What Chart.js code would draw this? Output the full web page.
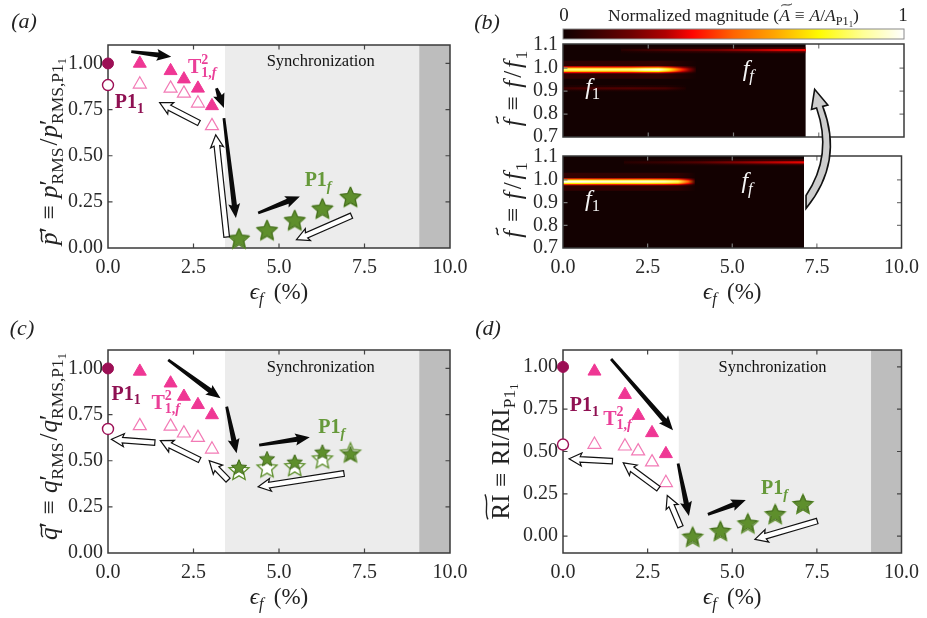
<!DOCTYPE html>
<html>
<head>
<meta charset="utf-8">
<title>Forced thermoacoustic states</title>
<script src="https://cdn.jsdelivr.net/npm/chart.js@4.4.1/dist/chart.umd.min.js"></script>
<style>
  html, body { margin: 0; padding: 0; background: #fff; }
  #fig { position: relative; width: 927px; height: 618px; overflow: hidden; }
  #fig canvas { position: absolute; left: 0; top: 0; }
</style>
</head>
<body>
<div id="fig">
  <canvas id="panelA" width="927" height="618"></canvas>
  <canvas id="panelBTop" width="927" height="618"></canvas>
  <canvas id="panelBBot" width="927" height="618"></canvas>
  <canvas id="panelC" width="927" height="618"></canvas>
  <canvas id="panelD" width="927" height="618"></canvas>
</div>
<script>
// ---------------- data ----------------
// forcing amplitude (%) of each measured state
const epsP11 = [0.0];
const epsT = [0.93, 1.83, 2.22, 2.63, 3.04];
const epsP1f = [3.83, 4.65, 5.46, 6.27, 7.09];

// (a) pressure amplitude ("Up": forcing increased, "Down": forcing decreased)
const pP11Up = [1.00];
const pP11Down = [0.883];
const pTUp = [1.00, 0.96, 0.915, 0.865, 0.77];
const pTDown = [0.887, 0.865, 0.838, 0.784, 0.662];
const pP1fUp = [0.054, 0.099, 0.153, 0.216, 0.279];
const pP1fDown = [0.050, 0.096, 0.150, 0.213, 0.276];

// (c) heat-release amplitude
const qP11Up = [1.00];
const qP11Down = [0.672];
const qTUp = [0.984, 0.92, 0.848, 0.803, 0.748];
const qTDown = [0.689, 0.686, 0.649, 0.625, 0.562];
const qP1fUp = [0.467, 0.513, 0.495, 0.549, 0.540];
const qP1fDown = [0.450, 0.464, 0.471, 0.513, 0.545];

// (d) Rayleigh index
const riP11Up = [1.00];
const riP11Down = [0.541];
const riTUp = [0.974, 0.836, 0.712, 0.610, 0.486];
const riTDown = [0.541, 0.531, 0.502, 0.437, 0.315];
const riP1fUp = [0.000, 0.034, 0.079, 0.134, 0.193];
const riP1fDown = [-0.004, 0.030, 0.075, 0.130, 0.190];

// tick values
const epsTicks = [0, 2.5, 5, 7.5, 10];
const ampTicks = [0, 0.25, 0.5, 0.75, 1.0];
const freqTicks = [0.7, 0.8, 0.9, 1.0, 1.1];

// regime boundaries (%)
const syncStart = 3.42;
const syncEnd = 9.1;

// (b) spectral ridges: forcing amplitude (%), normalised magnitude, normalised frequency
const mapEpsEnd = 7.12;
const upF1Eps = [0, 0.5, 1.0, 1.5, 2.0, 2.4, 2.8, 3.1, 3.3, 3.5, 3.7, 3.9];
const upF1Mag = [0.84, 0.85, 0.85, 0.85, 0.86, 0.93, 0.96, 0.78, 0.60, 0.42, 0.25, 0.06];
const upF1Freq = 0.993;
const upSideEps = [0, 1.0, 2.0, 3.0, 3.6];
const upSideMag = [0.10, 0.13, 0.14, 0.12, 0.03];
const upSideFreq = 0.912;
const upFfEps = [1.7, 2.5, 3.5, 4.5, 5.5, 6.3, 7.12];
const upFfMag = [0.05, 0.10, 0.15, 0.20, 0.28, 0.34, 0.36];
const upFfFreq = 1.078;
const downF1Eps = [0, 0.5, 1.0, 1.5, 2.0, 2.5, 3.0, 3.4, 3.7, 3.9];
const downF1Mag = [0.97, 0.97, 0.94, 0.93, 0.93, 0.93, 0.90, 0.82, 0.50, 0.10];
const downF1Freq = 0.992;
const downFfEps = [1.8, 3.0, 4.0, 5.0, 6.0, 7.12];
const downFfMag = [0.05, 0.09, 0.14, 0.22, 0.30, 0.36];
const downFfFreq = 1.077;

// ---------------- styling ----------------
const SERIF = '"Liberation Serif", "DejaVu Serif", "Times New Roman", serif';
const C = {
  p11: '#9c0f55', t: '#ef3794', tOpen: '#f27ab5', star: '#5e8f2c', starEdge: '#41691b',
  lblP11: '#8f1052', lblT: '#ea3f98', lblP1f: '#66993a',
  sync: '#ececec', beyond: '#bdbdbd', frame: '#3a3a3a', text: '#222', tick: '#2a2a2a'
};
const HEAT_BG = '#130101';
const magStops = [0, 0.1, 0.2, 0.3, 0.38, 0.5, 0.62, 0.75, 0.88, 1];
const magColors = [[16,0,0],[60,0,0],[110,0,0],[175,0,0],[255,5,0],[255,100,0],[255,165,0],[255,250,0],[255,255,150],[255,255,255]];
const F1_LAYERS = [[18, 0.3, 0.2], [7, 0.45, 0.9], [4.5, 0.75, 1], [2.2, 1.0, 1]];
const FF_LAYERS = [[6, 0.55, 0.5], [2.2, 1.0, 1]];

Chart.defaults.font.family = SERIF;

function heatColor(m, alpha) {
  m = Math.max(0, Math.min(1, m));
  let i = 1;
  while (i < magStops.length - 1 && m > magStops[i]) i++;
  const t = (m - magStops[i - 1]) / (magStops[i] - magStops[i - 1]);
  const c0 = magColors[i - 1], c1 = magColors[i];
  const c = c0.map((v, k) => Math.round(v + (c1[k] - v) * t));
  return `rgba(${c[0]},${c[1]},${c[2]},${alpha == null ? 1 : alpha})`;
}

// ---------------- rich text (sub/superscripts, tildes) ----------------
function fontStr(size, it, b) { return `${it ? 'italic ' : ''}${b ? 'bold ' : ''}${size}px ${SERIF}`; }
function layoutRuns(ctx, runs, S) {
  let x = 0; const items = [];
  for (const r of runs) {
    const lv = r.lv || 0;
    const k = lv === 1 ? 0.7 : lv === 2 ? 0.5 : lv === -1 ? 0.7 : 1;
    const dy = lv === 1 ? 0.22 * S : lv === 2 ? 0.36 * S : lv === -1 ? -0.42 * S : 0;
    const sz = S * k;
    ctx.font = fontStr(sz, r.it, r.b);
    const w = ctx.measureText(r.t).width;
    x += (r.pre || 0) * S;
    items.push({ r, x, dy, sz, w });
    if (!r.na) x += w;
    x += (r.sp || 0) * S;
  }
  return { items, width: x };
}
function drawTilde(ctx, x, y, w, sz) {
  const a = sz * 0.06;
  ctx.beginPath();
  ctx.lineWidth = Math.max(1, sz * 0.055);
  ctx.moveTo(x, y + a);
  ctx.bezierCurveTo(x + w * 0.3, y - a * 1.8, x + w * 0.6, y + a * 1.8, x + w, y - a);
  ctx.stroke();
}
function drawRich(ctx, runs, S, px, py, opt) {
  opt = opt || {};
  ctx.save();
  ctx.translate(px, py);
  if (opt.rot) ctx.rotate(opt.rot);
  const L = layoutRuns(ctx, runs, S);
  const x0 = opt.align === 'left' ? 0 : opt.align === 'right' ? -L.width : -L.width / 2;
  ctx.textBaseline = 'alphabetic';
  ctx.textAlign = 'left';
  for (const it of L.items) {
    const col = it.r.color || opt.color || C.text;
    ctx.fillStyle = col; ctx.strokeStyle = col;
    ctx.font = fontStr(it.sz, it.r.it, it.r.b);
    ctx.fillText(it.r.t, x0 + it.x, it.dy);
    if (it.r.tilde) drawTilde(ctx, x0 + it.x + (it.r.it ? 0.12 * it.sz : 0), it.dy - it.r.tilde * it.sz, it.w, it.sz);
  }
  ctx.restore();
}

// ---------------- markers ----------------
function makeStar(R, fill, stroke, lw) {
  const cv = document.createElement('canvas');
  const n = Math.ceil(2 * R + 2 * lw + 2);
  cv.width = n; cv.height = n;
  const g = cv.getContext('2d');
  const c = n / 2, r = R * 0.46;
  g.beginPath();
  for (let i = 0; i < 10; i++) {
    const a = -Math.PI / 2 + i * Math.PI / 5;
    const rr = i % 2 ? r : R;
    const x = c + rr * Math.cos(a), y = c + 1 + rr * Math.sin(a);
    i ? g.lineTo(x, y) : g.moveTo(x, y);
  }
  g.closePath();
  g.fillStyle = fill; g.fill();
  g.lineJoin = 'miter'; g.lineWidth = lw; g.strokeStyle = stroke; g.stroke();
  return cv;
}
const starOpen = makeStar(10.5, '#ffffff', C.star, 1.3);
const starFullA = makeStar(10.5, C.star, C.starEdge, 1);
const starFullC = makeStar(8, C.star, C.starEdge, 1);
const starFullD = makeStar(9.5, C.star, C.starEdge, 1);

function pts(xs, ys) { return xs.map((x, i) => ({ x, y: ys[i] })); }

function markerSets(p11Up, p11Down, tUp, tDown, fUp, fDown, fullStar) {
  return [
    { data: pts(epsP11, p11Up), pointStyle: 'circle', pointRadius: 5.5, backgroundColor: C.p11, borderColor: C.p11, borderWidth: 1, order: 1 },
    { data: pts(epsP11, p11Down), pointStyle: 'circle', pointRadius: 5.5, backgroundColor: '#fff', borderColor: C.p11, borderWidth: 1.4, order: 2 },
    { data: pts(epsT, tUp), pointStyle: 'triangle', pointRadius: 7.5, backgroundColor: C.t, borderColor: C.t, borderWidth: 1, order: 1 },
    { data: pts(epsT, tDown), pointStyle: 'triangle', pointRadius: 7.5, backgroundColor: '#fff', borderColor: C.tOpen, borderWidth: 1.2, order: 2 },
    { data: pts(epsP1f, fDown), pointStyle: starOpen, pointRadius: 10, order: 2 },
    { data: pts(epsP1f, fUp), pointStyle: fullStar, pointRadius: 10, order: 1 }
  ].map(d => Object.assign({ clip: false, showLine: false, pointHoverRadius: d.pointRadius }, d));
}

// ---------------- annotations ----------------
function drawArrow(ctx, x0, y0, x1, y1, hollow) {
  const dx = x1 - x0, dy = y1 - y0, L = Math.hypot(dx, dy);
  const ux = dx / L, uy = dy / L, nx = -uy, ny = ux;
  const hl = hollow ? 11 : 13, hw = hollow ? 6.5 : 6;
  const s0 = hollow ? 2.8 : 1.4, s1 = hollow ? 2.8 : 2.6;
  const bx = x1 - ux * hl, by = y1 - uy * hl;
  const P = [
    [x0 + nx * s0, y0 + ny * s0], [bx + nx * s1, by + ny * s1], [bx + nx * hw - ux * 1.5, by + ny * hw - uy * 1.5], [x1, y1],
    [bx - nx * hw - ux * 1.5, by - ny * hw - uy * 1.5], [bx - nx * s1, by - ny * s1], [x0 - nx * s0, y0 - ny * s0]
  ];
  ctx.beginPath();
  P.forEach(([px, py], i) => (i ? ctx.lineTo(px, py) : ctx.moveTo(px, py)));
  ctx.closePath();
  if (hollow) {
    ctx.fillStyle = '#fff'; ctx.fill();
    ctx.lineWidth = 1.2; ctx.lineJoin = 'miter'; ctx.strokeStyle = '#111'; ctx.stroke();
  } else {
    ctx.fillStyle = '#0a0a0a'; ctx.fill();
  }
}

function drawFrame(chart, xt, yt, tickColor) {
  const { ctx, chartArea: a, scales: { x, y } } = chart;
  const TL = 4.5;
  ctx.save();
  ctx.strokeStyle = tickColor; ctx.lineWidth = 1.2;
  ctx.beginPath();
  for (const v of xt) {
    const p = x.getPixelForValue(v);
    if (p < a.left + 2 || p > a.right - 2) continue;
    ctx.moveTo(p, a.bottom); ctx.lineTo(p, a.bottom - TL);
    ctx.moveTo(p, a.top); ctx.lineTo(p, a.top + TL);
  }
  for (const v of yt) {
    const p = y.getPixelForValue(v);
    if (p < a.top + 2 || p > a.bottom - 2) continue;
    ctx.moveTo(a.left, p); ctx.lineTo(a.left + TL, p);
    ctx.moveTo(a.right, p); ctx.lineTo(a.right - TL, p);
  }
  ctx.stroke();
  ctx.lineWidth = 1.5; ctx.strokeStyle = C.frame;
  ctx.strokeRect(a.left, a.top, a.right - a.left, a.bottom - a.top);
  ctx.restore();
}

const epsTitle = [{ t: 'ϵ', it: 1 }, { t: 'f', it: 1, lv: 1 }, { t: '(%)', pre: 0.45 }];

function makeDecor(cfg) {
  return {
    id: 'decor',
    beforeDatasetsDraw(chart) {
      const { ctx, chartArea: a, scales: { x } } = chart;
      if (cfg.bands) {
        const x0 = x.getPixelForValue(syncStart), x1 = x.getPixelForValue(syncEnd), x2 = x.getPixelForValue(10);
        ctx.fillStyle = C.sync; ctx.fillRect(x0, a.top, x1 - x0, a.bottom - a.top);
        ctx.fillStyle = C.beyond; ctx.fillRect(x1, a.top, x2 - x1, a.bottom - a.top);
      }
      if (!cfg.frameOnTop) drawFrame(chart, epsTicks, cfg.yTicks, '#444');
    },
    afterDatasetsDraw(chart) {
      const { ctx, scales: { x, y } } = chart;
      if (cfg.frameOnTop) drawFrame(chart, epsTicks, cfg.yTicks, '#7a7a7a');
      if (cfg.sync) {
        ctx.save();
        ctx.font = `16.5px ${SERIF}`; ctx.fillStyle = '#111';
        ctx.textAlign = 'center'; ctx.textBaseline = 'middle';
        ctx.fillText('Synchronization', x.getPixelForValue(cfg.sync[0]), y.getPixelForValue(cfg.sync[1]));
        ctx.restore();
      }
      (cfg.arrows || []).forEach(([e0, v0, e1, v1, hollow]) =>
        drawArrow(ctx, x.getPixelForValue(e0), y.getPixelForValue(v0), x.getPixelForValue(e1), y.getPixelForValue(v1), hollow));
      (cfg.labels || []).forEach(l =>
        drawRich(ctx, l.runs, l.size, x.getPixelForValue(l.at[0]), y.getPixelForValue(l.at[1]), { align: 'left', color: l.color }));
    },
    afterDraw(chart) {
      const { ctx, chartArea: a } = chart;
      if (cfg.tag) {
        ctx.save();
        ctx.font = `italic 22px ${SERIF}`; ctx.fillStyle = C.text;
        ctx.textAlign = 'center'; ctx.textBaseline = 'middle';
        ctx.fillText(cfg.tag, a.left + cfg.tagDx, a.top + cfg.tagDy);
        ctx.restore();
      }
      if (cfg.yTitle) drawRich(ctx, cfg.yTitle, cfg.yTitleSize, a.left - cfg.yTitleDx, (a.top + a.bottom) / 2 + cfg.yTitleDy, { rot: -Math.PI / 2 });
      if (cfg.xTitle) drawRich(ctx, epsTitle, 23, (a.left + a.right) / 2, a.bottom + 51);
      if (cfg.extra) cfg.extra(chart);
    }
  };
}

function axes(yMin, yMax, yTicks, digits, showX) {
  const tickFont = { family: SERIF, size: 20 };
  return {
    x: {
      type: 'linear', min: 0, max: 10,
      afterBuildTicks: s => { s.ticks = epsTicks.map(v => ({ value: v })); },
      afterFit: s => { s.height = 40; },
      grid: { display: false, drawTicks: false }, border: { display: false },
      ticks: { display: showX, font: tickFont, color: C.tick, padding: 8, maxRotation: 0, autoSkip: false, callback: v => Number(v).toFixed(1) }
    },
    y: {
      type: 'linear', min: yMin, max: yMax,
      afterBuildTicks: s => { s.ticks = yTicks.map(v => ({ value: v })); },
      afterFit: s => { s.width = 50; },
      grid: { display: false, drawTicks: false }, border: { display: false },
      ticks: { font: tickFont, color: C.tick, padding: 5, autoSkip: false, callback: v => Number(v).toFixed(digits) }
    }
  };
}

function pad(area) {
  return { left: area.l - 50, top: area.t, right: 927 - area.r, bottom: 618 - area.b - 40 };
}

function scatterPanel(id, area, yMin, datasets, cfg) {
  return new Chart(document.getElementById(id), {
    type: 'scatter',
    data: { datasets },
    options: {
      responsive: false, animation: false, devicePixelRatio: 1, events: [],
      layout: { padding: pad(area) },
      plugins: { legend: { display: false }, tooltip: { enabled: false } },
      scales: axes(yMin, 1.1, ampTicks, 2, true)
    },
    plugins: [makeDecor(Object.assign({ yTicks: ampTicks, bands: true, xTitle: true }, cfg))]
  });
}

function ridgeGradient(chart, eps, mag, k, alpha) {
  const xs = chart.scales.x;
  if (!xs || !chart.chartArea) return 'rgba(0,0,0,0)';
  const x0 = xs.getPixelForValue(eps[0]), x1 = xs.getPixelForValue(eps[eps.length - 1]);
  const g = chart.ctx.createLinearGradient(x0, 0, x1, 0);
  eps.forEach((e, i) => g.addColorStop((xs.getPixelForValue(e) - x0) / (x1 - x0), heatColor(mag[i] * k, alpha)));
  return g;
}
function ridge(eps, mag, freq, layers) {
  return layers.map(([w, k, alpha], i) => ({
    data: eps.map(e => ({ x: e, y: freq })),
    borderWidth: w,
    borderColor: c => ridgeGradient(c.chart, eps, mag, k, alpha),
    borderCapStyle: 'butt', pointRadius: 0, fill: false, tension: 0, clip: 0, order: 50 - i
  }));
}

function heatPanel(id, area, ridges, showX, cfg) {
  const bg = {
    data: [{ x: 0, y: 1.105 }, { x: mapEpsEnd, y: 1.105 }],
    fill: 'start', backgroundColor: HEAT_BG, borderWidth: 0, pointRadius: 0, order: 100, clip: 0
  };
  return new Chart(document.getElementById(id), {
    type: 'line',
    data: { datasets: [bg].concat(ridges) },
    options: {
      responsive: false, animation: false, devicePixelRatio: 1, events: [],
      layout: { padding: pad(area) },
      plugins: { legend: { display: false }, tooltip: { enabled: false } },
      scales: axes(0.7, 1.105, freqTicks, 1, showX)
    },
    plugins: [makeDecor(Object.assign({ yTicks: freqTicks, frameOnTop: true, xTitle: showX }, cfg))]
  });
}

// ---------------- titles and labels ----------------
const SUBP = { t: 'P1', lv: 1 }, SUBSUB1 = { t: '1', lv: 2 };
const titleP = [
  { t: 'p', it: 1, tilde: 0.62 }, { t: '′' }, { t: '≡', pre: 0.3, sp: 0.3 },
  { t: 'p', it: 1 }, { t: '′', na: 1 }, { t: 'RMS', lv: 1, pre: 0.04 }, { t: '/', pre: 0.08, sp: 0.04 },
  { t: 'p', it: 1 }, { t: '′', na: 1 }, { t: 'RMS,', lv: 1, pre: 0.04 }, SUBP, SUBSUB1
];
const titleQ = [
  { t: 'q', it: 1, tilde: 0.62 }, { t: '′' }, { t: '≡', pre: 0.3, sp: 0.3 },
  { t: 'q', it: 1 }, { t: '′', na: 1 }, { t: 'RMS', lv: 1, pre: 0.04 }, { t: '/', pre: 0.08, sp: 0.04 },
  { t: 'q', it: 1 }, { t: '′', na: 1 }, { t: 'RMS,', lv: 1, pre: 0.04 }, SUBP, SUBSUB1
];
const titleRI = [{ t: 'RI', tilde: 0.9 }, { t: '≡', pre: 0.3, sp: 0.3 }, { t: 'RI/RI' }, SUBP, SUBSUB1];
const titleF = [
  { t: 'f', it: 1, tilde: 0.95 }, { t: '≡', pre: 0.35, sp: 0.35 }, { t: 'f', it: 1, sp: 0.12 },
  { t: '/', sp: 0.12 }, { t: 'f', it: 1, sp: 0.06 }, { t: '1', lv: 1 }
];
const lblT = [{ t: 'T', b: 1 }, { t: '2', b: 1, lv: -1, na: 1 }, { t: '1,', b: 1, lv: 1 }, { t: 'f', b: 1, it: 1, lv: 1 }];
const lblP11 = [{ t: 'P1', b: 1 }, { t: '1', b: 1, lv: 1 }];
const lblP1f = [{ t: 'P1', b: 1 }, { t: 'f', b: 1, it: 1, lv: 1 }];

// ---------------- panel (a) ----------------
scatterPanel('panelA', { l: 108, t: 45, r: 450, b: 248 }, 0,
  markerSets(pP11Up, pP11Down, pTUp, pTDown, pP1fUp, pP1fDown, starFullA), {
    tag: '(a)', tagDx: -84, tagDy: -23,
    yTitle: titleP, yTitleSize: 25, yTitleDx: 51, yTitleDy: 5,
    sync: [6.22, 1.01],
    arrows: [
      [0.68, 1.064, 1.85, 1.037, false], [3.17, 0.866, 3.39, 0.758, false],
      [3.39, 0.704, 3.74, 0.162, false], [4.39, 0.19, 5.61, 0.279, false],
      [7.12, 0.175, 5.51, 0.045, true], [3.47, 0.06, 3.15, 0.613, true], [2.66, 0.677, 1.51, 0.788, true]
    ],
    labels: [
      { runs: lblT, size: 20, at: [2.34, 0.95], color: C.lblT },
      { runs: lblP11, size: 20, at: [0.2, 0.758], color: C.lblP11 },
      { runs: lblP1f, size: 20, at: [5.75, 0.334], color: C.lblP1f }
    ]
  });

// ---------------- panel (b): spectra, forcing increased (upper) and decreased (lower) ----------------
const heatText = [{ t: 'f', it: 1 }, { t: '1', lv: 1 }];
const heatTextF = [{ t: 'f', it: 1 }, { t: 'f', it: 1, lv: 1 }];
const heatTop = heatPanel('panelBTop', { l: 563, t: 44, r: 904, b: 137 },
  [].concat(ridge(upF1Eps, upF1Mag, upF1Freq, F1_LAYERS), ridge(upSideEps, upSideMag, upSideFreq, FF_LAYERS),
            ridge(upFfEps, upFfMag, upFfFreq, FF_LAYERS)), false, {
    tag: '(b)', tagDx: -76, tagDy: -21,
    yTitle: titleF, yTitleSize: 25, yTitleDx: 42, yTitleDy: -2,
    labels: [
      { runs: heatText, size: 24, at: [0.65, 0.887], color: '#f4f4f4' },
      { runs: heatTextF, size: 24, at: [5.27, 0.966], color: '#f4f4f4' }
    ],
    extra(chart) {
      const { ctx, chartArea: a, scales: { x } } = chart;
      const x0 = x.getPixelForValue(0), x1 = x.getPixelForValue(10);
      const g = ctx.createLinearGradient(x0, 0, x1, 0);
      magStops.forEach(s => g.addColorStop(s, heatColor(s)));
      ctx.fillStyle = g;
      ctx.fillRect(x0, a.top - 15, x1 - x0, 10);
      ctx.strokeStyle = '#8a8a8a'; ctx.lineWidth = 1;
      ctx.strokeRect(x0, a.top - 15, x1 - x0, 10);
      ctx.save();
      ctx.font = `19px ${SERIF}`; ctx.fillStyle = C.text; ctx.textAlign = 'center'; ctx.textBaseline = 'alphabetic';
      ctx.fillText('0', x0 + 1, a.top - 23);
      ctx.fillText('1', x1 - 1, a.top - 23);
      ctx.restore();
      drawRich(ctx, [{ t: 'Normalized magnitude (' }, { t: 'A', it: 1, tilde: 0.92 }, { t: '≡', pre: 0.28, sp: 0.28 },
        { t: 'A', it: 1 }, { t: '/' }, { t: 'A', it: 1 }, SUBP, SUBSUB1, { t: ')' }], 17.5, (x0 + x1) / 2, a.top - 23);
    }
  });

heatPanel('panelBBot', { l: 563, t: 156, r: 904, b: 248 },
  [].concat(ridge(downF1Eps, downF1Mag, downF1Freq, F1_LAYERS), ridge(downFfEps, downFfMag, downFfFreq, FF_LAYERS)), true, {
    yTitle: titleF, yTitleSize: 25, yTitleDx: 42, yTitleDy: -2,
    labels: [
      { runs: heatText, size: 24, at: [0.65, 0.887], color: '#f4f4f4' },
      { runs: heatTextF, size: 24, at: [5.27, 0.962], color: '#f4f4f4' }
    ],
    extra(chart) {
      // curved arrow from the decreasing-forcing map back up to the increasing-forcing map
      const { ctx } = chart;
      const xb = chart.scales.x, yb = chart.scales.y, xt = heatTop.scales.x, yt = heatTop.scales.y;
      const tx = xb.getPixelForValue(7.18), tLow = yb.getPixelForValue(0.874), tHigh = yb.getPixelForValue(0.931);
      const hx = xt.getPixelForValue(7.38), hy = yt.getPixelForValue(0.908);
      const nkx = hx + 5, nky = hy + 18;
      const L = Math.hypot(hx - nkx, hy - nky), ux = (hx - nkx) / L, uy = (hy - nky) / L, nx = -uy, ny = ux;
      ctx.save();
      ctx.beginPath();
      ctx.moveTo(tx, tLow);
      ctx.quadraticCurveTo(tx + 38, (tLow + nky) / 2 + 4, nkx + nx * 3.2, nky + ny * 3.2);
      ctx.lineTo(nkx + nx * 8.5, nky + ny * 8.5);
      ctx.lineTo(hx, hy);
      ctx.lineTo(nkx - nx * 8.5, nky - ny * 8.5);
      ctx.lineTo(nkx - nx * 3.2, nky - ny * 3.2);
      ctx.quadraticCurveTo(tx + 27, (tHigh + nky) / 2 + 4, tx, tHigh);
      ctx.closePath();
      ctx.fillStyle = '#cdcdcd'; ctx.fill();
      ctx.lineWidth = 1.6; ctx.lineJoin = 'miter'; ctx.strokeStyle = '#111'; ctx.stroke();
      ctx.restore();
    }
  });

// ---------------- panel (c) ----------------
scatterPanel('panelC', { l: 108, t: 350, r: 450, b: 553 }, 0,
  markerSets(qP11Up, qP11Down, qTUp, qTDown, qP1fUp, qP1fDown, starFullC), {
    tag: '(c)', tagDx: -86, tagDy: -21,
    yTitle: titleQ, yTitleSize: 25, yTitleDx: 51, yTitleDy: -5,
    sync: [6.22, 1.004],
    arrows: [
      [1.76, 1.046, 3.29, 0.838, false], [3.47, 0.793, 3.76, 0.54, false], [4.42, 0.585, 5.9, 0.627, false],
      [6.9, 0.431, 4.39, 0.359, true], [3.51, 0.395, 2.96, 0.5, true], [2.68, 0.504, 1.53, 0.609, true],
      [1.37, 0.598, 0.1, 0.616, true]
    ],
    labels: [
      { runs: lblP11, size: 20, at: [0.1, 0.83], color: C.lblP11 },
      { runs: lblT, size: 20, at: [1.27, 0.781], color: C.lblT },
      { runs: lblP1f, size: 20, at: [6.15, 0.649], color: C.lblP1f }
    ]
  });

// ---------------- panel (d) ----------------
scatterPanel('panelD', { l: 563, t: 350, r: 904, b: 553 }, -0.1,
  markerSets(riP11Up, riP11Down, riTUp, riTDown, riP1fUp, riP1fDown, starFullD), {
    tag: '(d)', tagDx: -75, tagDy: -21,
    yTitle: titleRI, yTitleSize: 25, yTitleDx: 54, yTitleDy: 0,
    sync: [6.19, 0.996],
    arrows: [
      [1.42, 1.047, 3.25, 0.626, false], [3.4, 0.429, 3.72, 0.118, false], [4.28, 0.128, 5.4, 0.213, false],
      [7.51, 0.089, 5.67, -0.019, true], [3.47, 0.055, 3.08, 0.24, true], [2.82, 0.28, 1.78, 0.433, true],
      [1.46, 0.443, 0.18, 0.457, true]
    ],
    labels: [
      { runs: lblP11, size: 20, at: [0.2, 0.738], color: C.lblP11 },
      { runs: lblT, size: 20, at: [1.19, 0.659], color: C.lblT },
      { runs: lblP1f, size: 20, at: [5.85, 0.246], color: C.lblP1f }
    ]
  });
</script>
</body>
</html>
